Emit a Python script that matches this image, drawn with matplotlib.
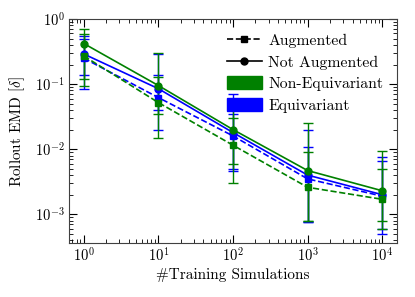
import matplotlib
matplotlib.use("Agg")
import matplotlib.pyplot as plt
from matplotlib.lines import Line2D
from matplotlib.patches import Patch
import numpy as np

plt.rcParams['font.family'] = 'serif'
plt.rcParams['font.serif'] = ['cmr10', 'DejaVu Serif']
plt.rcParams['mathtext.fontset'] = 'cm'
plt.rcParams['axes.formatter.use_mathtext'] = True
plt.rcParams['axes.unicode_minus'] = False

n_sims = [1, 10, 100, 1000, 10000]

# Non-equivariant (green)
neq_noaug = [0.42, 0.095, 0.020, 0.0047, 0.0023]
neq_noaug_lo = [0.095, 0.015, 0.003, 0.0008, 0.0006]
neq_noaug_hi = [0.70, 0.30, 0.052, 0.025, 0.0095]

neq_aug = [0.27, 0.052, 0.0115, 0.0026, 0.0017]
neq_aug_lo = [0.12, 0.035, 0.006, 0.0008, 0.0008]
neq_aug_hi = [0.58, 0.13, 0.030, 0.009, 0.005]

# Equivariant (blue)
eq_noaug = [0.29, 0.085, 0.018, 0.0040, 0.0020]
eq_noaug_lo = [0.085, 0.020, 0.0046, 0.00075, 0.0005]
eq_noaug_hi = [0.55, 0.29, 0.070, 0.011, 0.0075]

eq_aug = [0.25, 0.062, 0.016, 0.0035, 0.0019]
eq_aug_lo = [0.14, 0.040, 0.005, 0.00075, 0.0006]
eq_aug_hi = [0.50, 0.14, 0.035, 0.020, 0.0065]

fig = plt.figure(figsize=(4.15, 2.97), dpi=100)
ax = fig.add_axes([0.166, 0.182, 0.791, 0.754])

def plot_series(y, lo, hi, color, ls, marker):
    y = np.array(y); lo = np.array(lo); hi = np.array(hi)
    ax.errorbar(n_sims, y, yerr=[y - lo, hi - y], color=color, ls=ls,
                marker=marker, ms=5, lw=1.2, capsize=3.5, elinewidth=1.0,
                capthick=1.0)

plot_series(eq_aug, eq_aug_lo, eq_aug_hi, 'blue', '--', 's')
plot_series(eq_noaug, eq_noaug_lo, eq_noaug_hi, 'blue', '-', 'o')
plot_series(neq_aug, neq_aug_lo, neq_aug_hi, 'green', '--', 's')
plot_series(neq_noaug, neq_noaug_lo, neq_noaug_hi, 'green', '-', 'o')

ax.set_xscale('log')
ax.set_yscale('log')
ax.set_ylim(10**-3.44, 1)
ax.set_xlabel('#Training Simulations', fontsize=11, labelpad=2)
ax.set_ylabel(r'Rollout EMD [$\delta$]', fontsize=11, labelpad=6)
ax.tick_params(which='both', direction='in', top=True, right=True, labelsize=10.5, pad=3)
ax.tick_params(which='major', length=6)
ax.tick_params(which='minor', length=3)
for s in ax.spines.values():
    s.set_color('0.25')

handles = [
    Line2D([0], [0], color='black', ls='--', marker='s', ms=5, lw=1.2),
    Line2D([0], [0], color='black', ls='-', marker='o', ms=5, lw=1.2),
    Patch(facecolor='green', edgecolor='green'),
    Patch(facecolor='blue', edgecolor='blue'),
]
labels = ['Augmented', 'Not Augmented', 'Non-Equivariant', 'Equivariant']
ax.legend(handles, labels, loc='upper right', frameon=False, fontsize=11.3,
          handlelength=2.2, handleheight=0.9, labelspacing=0.42,
          handletextpad=0.4, bbox_to_anchor=(1.0, 1.0))

fig.savefig('out.png', dpi=100)
